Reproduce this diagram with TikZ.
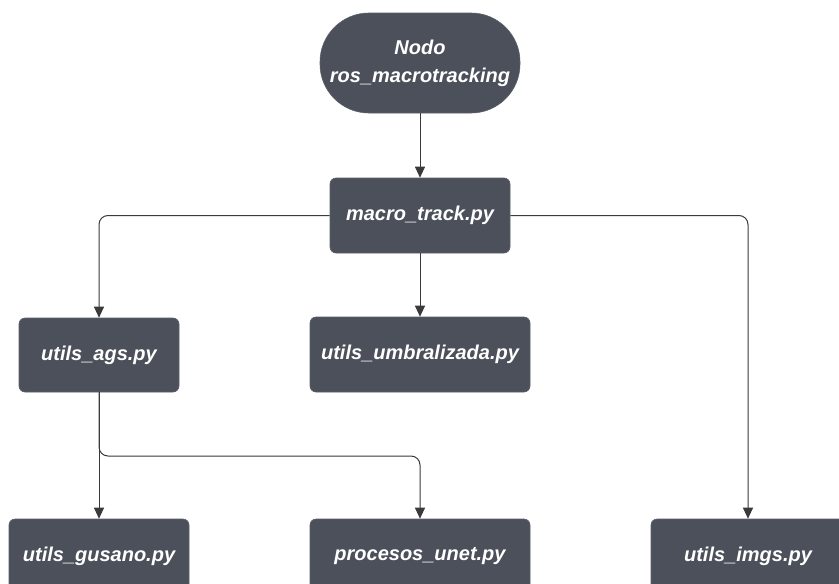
\documentclass[tikz,border=0pt]{standalone}
\usepackage{fontspec}
\setmainfont{Liberation Sans}
\usetikzlibrary{arrows.meta}
\definecolor{boxfill}{HTML}{4B505B}
\definecolor{boxedge}{HTML}{5A5F68}
\definecolor{linecol}{HTML}{3A3A3A}
\tikzset{
  filebox/.style={rectangle, rounded corners=6pt, fill=boxfill, draw=boxedge, line width=0.6pt,
    text=white, font=\fontsize{20}{24}\selectfont\bfseries\itshape, inner sep=0pt, align=center},
  pill/.style={filebox, rounded corners=49pt, minimum width=200pt, minimum height=100pt,
    font=\fontsize{20}{28}\selectfont\bfseries\itshape},
  conn/.style={draw=linecol, line width=1pt, rounded corners=9pt,
    -{Triangle[length=11pt,width=10pt]}}
}
\begin{document}
\begin{tikzpicture}[x=1pt,y=-1pt]
\useasboundingbox (0,0) rectangle (839,584);
\clip (0,0) rectangle (839,584);
\fill[white] (0,0) rectangle (839,584);

% nodes
\node[pill] (ros) at (420,63) {Nodo\\ros\_macrotracking};
\node[filebox, minimum width=180pt, minimum height=75pt] (macro) at (420,215.5) {macro\_track.py};
\node[filebox, minimum width=160pt, minimum height=74pt] (ags) at (99,355) {utils\_ags.py};
\node[filebox, minimum width=220pt, minimum height=75pt] (umbral) at (420,354.5) {utils\_umbralizada.py};
\node[filebox, minimum width=180pt, minimum height=75pt] (gusano) at (99,556.5) {utils\_gusano.py};
\node[filebox, minimum width=220pt, minimum height=75pt] (unet) at (420,556.5) {procesos\_unet.py};
\node[filebox, minimum width=194pt, minimum height=75pt] (imgs) at (748,556.5) {utils\_imgs.py};

% connectors
\draw[conn] (ros.south) -- (macro.north);
\draw[conn] (macro.west) -| (ags.north);
\draw[conn] (macro.south) -- (umbral.north);
\draw[conn] (macro.east) -| (imgs.north);
\coordinate (split) at (99,456);
\draw[conn] (ags.south) -- (gusano.north);
\draw[conn] (ags.south) -- (split) -| (unet.north);
\end{tikzpicture}
\end{document}
